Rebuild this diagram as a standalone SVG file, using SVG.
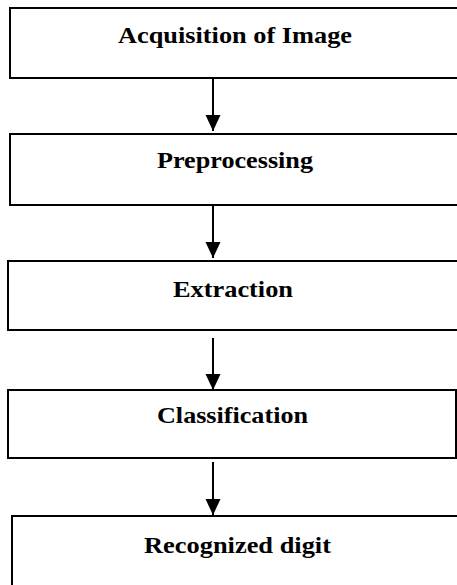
<svg xmlns="http://www.w3.org/2000/svg" width="457" height="585" viewBox="0 0 457 585">
<style>
.box{fill:#fff;stroke:#000;stroke-width:2}
.lbl{font-family:"Liberation Serif","Times New Roman",serif;font-weight:bold;font-size:23px;fill:#000}
.conn{stroke:#000;stroke-width:2;fill:none}
</style>
<defs>
<marker id="ah" viewBox="0 0 16 16" refX="16" refY="8" markerWidth="16" markerHeight="16" markerUnits="userSpaceOnUse" orient="auto">
<path d="M0,0.5 L16,8 L0,15.5 Z" fill="#000"/>
</marker>
</defs>
<rect width="457" height="585" fill="#fff"/>
<g id="n1"><rect class="box" x="10" y="8" width="452" height="70"/><text class="lbl" x="118" y="43" textLength="234" lengthAdjust="spacingAndGlyphs">Acquisition of Image</text></g>
<g id="n2"><rect class="box" x="10" y="134" width="452" height="71"/><text class="lbl" x="157" y="168" textLength="156" lengthAdjust="spacingAndGlyphs">Preprocessing</text></g>
<g id="n3"><rect class="box" x="8" y="261" width="454" height="69"/><text class="lbl" x="173" y="297" textLength="120" lengthAdjust="spacingAndGlyphs">Extraction</text></g>
<g id="n4"><rect class="box" x="8" y="390" width="448" height="68"/><text class="lbl" x="157" y="423" textLength="151" lengthAdjust="spacingAndGlyphs">Classification</text></g>
<g id="n5"><rect class="box" x="12" y="516" width="450" height="80"/><text class="lbl" x="144" y="553" textLength="187" lengthAdjust="spacingAndGlyphs">Recognized digit</text></g>
<g id="connectors">
<line class="conn" x1="213" y1="78" x2="213" y2="131" marker-end="url(#ah)"/>
<line class="conn" x1="213" y1="205" x2="213" y2="258" marker-end="url(#ah)"/>
<line class="conn" x1="213" y1="338" x2="213" y2="390" marker-end="url(#ah)"/>
<line class="conn" x1="213" y1="462" x2="213" y2="515" marker-end="url(#ah)"/>
</g>
</svg>
